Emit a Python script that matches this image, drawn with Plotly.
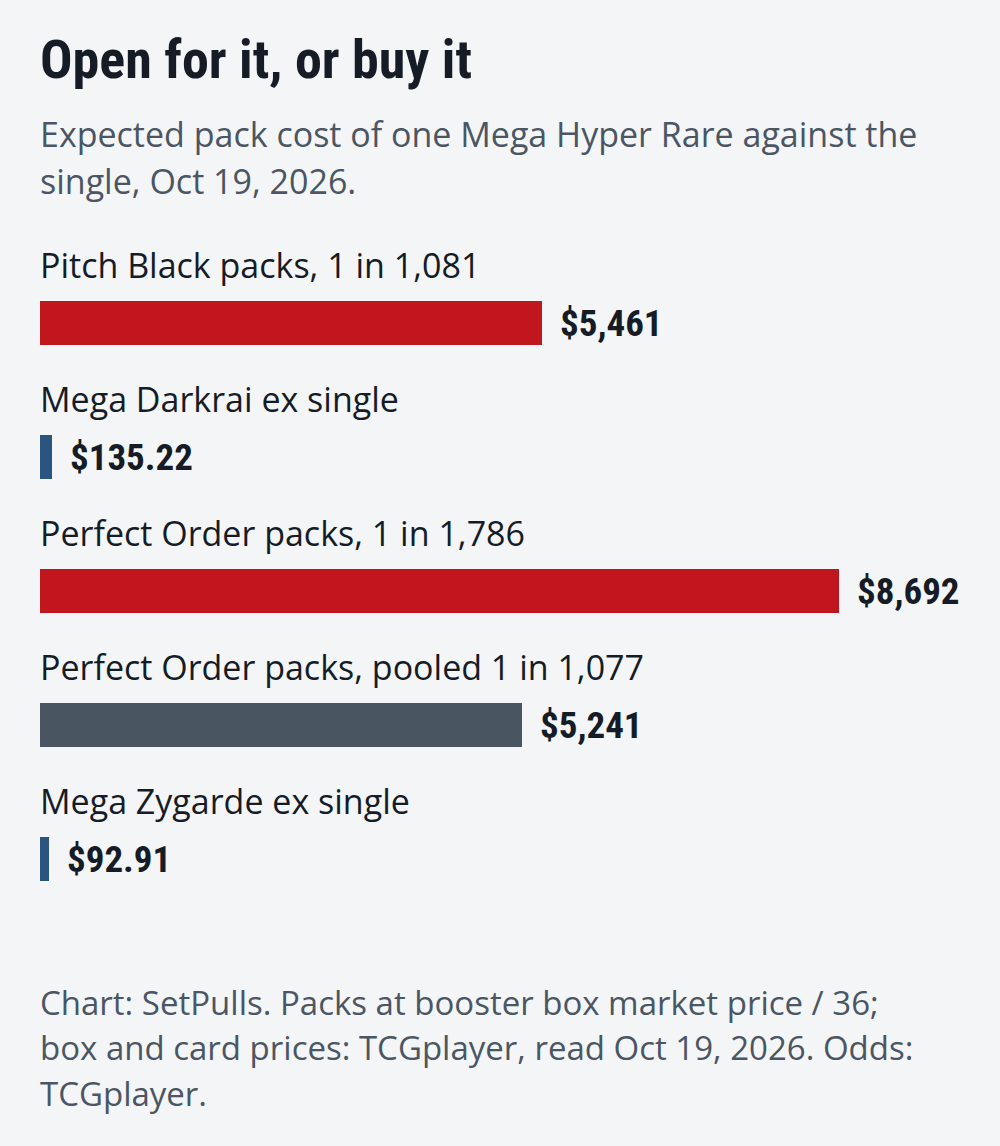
import plotly.graph_objects as go

# ---- data ----
categories = [
    "Pitch Black packs, 1 in 1,081",
    "Mega Darkrai ex single",
    "Perfect Order packs, 1 in 1,786",
    "Perfect Order packs, pooled 1 in 1,077",
    "Mega Zygarde ex single",
]
values = [5461, 135.22, 8692, 5241, 92.91]
kinds = ["pack", "single", "pack", "pooled", "single"]

title = "Open for it, or buy it"
subtitle_lines = [
    "Expected pack cost of one Mega Hyper Rare against the",
    "single, Oct 19, 2026.",
]
footer_lines = [
    "Chart: SetPulls. Packs at booster box market price / 36;",
    "box and card prices: TCGplayer, read Oct 19, 2026. Odds:",
    "TCGplayer.",
]

# ---- style ----
BG = "#f3f5f7"
KIND_COLORS = {"pack": "#c1161e", "single": "#2a5580", "pooled": "#4a5562"}
TEXT_DARK = "#151c26"
TEXT_GRAY = "#4b5563"
COND = "Roboto Condensed, Roboto, sans-serif"
REG = "Open Sans, Roboto, sans-serif"

W, H = 1000, 1146
ML, MR = 40, 0
PLOT_TOP, PLOT_BOT = 256, 926
PH = PLOT_BOT - PLOT_TOP


def paper_y(ypix):
    return (PLOT_BOT - ypix) / PH


def fmt(v):
    return "${:,.0f}".format(v) if v >= 1000 else "${:,.2f}".format(v)


fig = go.Figure(
    go.Bar(
        x=values,
        y=categories,
        orientation="h",
        marker=dict(color=[KIND_COLORS[k] for k in kinds], line=dict(width=0)),
        width=0.33,
        hoverinfo="skip",
    )
)

annotations = []
# category labels above bars
for c in categories:
    annotations.append(dict(
        x=0, xref="paper", y=c, yref="y", yshift=58,
        text=c, showarrow=False, xanchor="left", yanchor="middle", xshift=-2,
        font=dict(family=REG, size=34, color=TEXT_DARK),
    ))
# value labels right of bars
for c, v in zip(categories, values):
    annotations.append(dict(
        x=v, xref="x", y=c, yref="y", xshift=16,
        text="<b>" + fmt(v) + "</b>", showarrow=False, xanchor="left", yanchor="middle",
        font=dict(family=COND, size=37, color=TEXT_DARK),
    ))
# title
annotations.append(dict(
    x=0, xref="paper", y=paper_y(59), yref="paper", xshift=-2,
    text="<b>" + title + "</b>", showarrow=False, xanchor="left", yanchor="middle",
    font=dict(family=COND, size=54, color=TEXT_DARK),
))
# subtitle
for i, line in enumerate(subtitle_lines):
    annotations.append(dict(
        x=0, xref="paper", y=paper_y(134 + 46.5 * i), yref="paper", xshift=-2,
        text=line, showarrow=False, xanchor="left", yanchor="middle",
        font=dict(family=REG, size=34, color=TEXT_GRAY),
    ))
# footer
for i, line in enumerate(footer_lines):
    annotations.append(dict(
        x=0, xref="paper", y=paper_y(1002 + 45.5 * i), yref="paper", xshift=-2,
        text=line, showarrow=False, xanchor="left", yanchor="middle",
        font=dict(family=REG, size=33, color=TEXT_GRAY),
    ))

fig.update_layout(
    width=W, height=H,
    margin=dict(l=ML, r=MR, t=PLOT_TOP, b=H - PLOT_BOT, pad=0),
    paper_bgcolor=BG, plot_bgcolor=BG,
    showlegend=False,
    xaxis=dict(range=[0, max(values) * (W - ML - MR) / 799], visible=False, fixedrange=True),
    yaxis=dict(range=[len(categories) - 0.5, -0.5], visible=False, fixedrange=True),
    annotations=annotations,
    bargap=0,
)

fig.write_html("out.html", config={"displayModeBar": False})
